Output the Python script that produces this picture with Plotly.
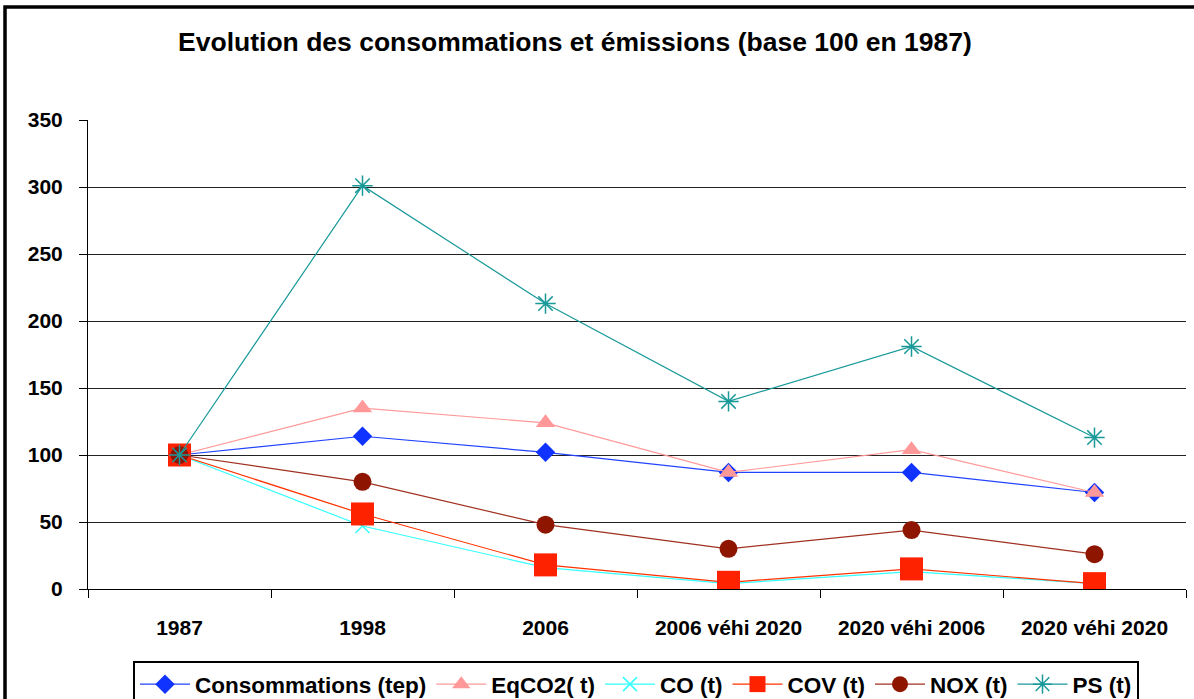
import plotly.graph_objects as go

# Scenario categories on the x axis
categories = ["1987", "1998", "2006", "2006 véhi 2020", "2020 véhi 2006", "2020 véhi 2020"]

# Indexed values (base 100 in 1987)
consommations = [100, 114, 102, 87, 87, 72]
eqco2 = [100, 135, 124, 87, 104, 72]
co = [100, 47, 16, 4, 13, 4]
cov = [100, 56, 18, 5, 15, 4]
nox = [100, 80, 48, 30, 44, 26]
ps = [100, 301, 213, 140, 181, 113]

y_ticks = [0, 50, 100, 150, 200, 250, 300, 350]

FONT = "Liberation Sans, Arial, sans-serif"

series = [
    ("Consommations (tep)", consommations, dict(symbol="diamond", size=15, color="#1133FF"), "#2244FF"),
    ("EqCO2( t)", eqco2, dict(symbol="triangle-up", size=17, color="#FF9999"), "#FF9999"),
    ("CO (t)", co, dict(symbol="x-thin-open", size=14, color="#33FFFF", line=dict(width=1.5, color="#33FFFF")), "#33FFFF"),
    ("COV (t)", cov, dict(symbol="square", size=23, color="#FF2200"), "#FF3300"),
    ("NOX (t)", nox, dict(symbol="circle", size=18, color="#8E1500"), "#A03020"),
    ("PS (t)", ps, dict(symbol="asterisk-open", size=17, color="#1A9999", line=dict(width=1.5, color="#1A9999")), "#1A9999"),
]

fig = go.Figure()
for name, values, marker, line_color in series:
    fig.add_trace(go.Scatter(
        x=categories, y=values, name=name, mode="lines+markers",
        line=dict(color=line_color, width=1.2),
        marker=marker,
    ))

# Outer chart frame (thick black border)
fig.add_shape(
    type="rect", xref="paper", yref="paper",
    x0=(5 - 88) / 1098, x1=(1220 - 88) / 1098,
    y0=(589 - 720) / 469, y1=(589 - 7) / 469,
    line=dict(color="black", width=3.5), fillcolor="rgba(0,0,0,0)", layer="below",
)

fig.update_layout(
    width=1194, height=699,
    margin=dict(l=88, r=8, t=120, b=110, autoexpand=False),
    paper_bgcolor="white", plot_bgcolor="white",
    font=dict(family=FONT, color="black"),
    title=dict(
        text="Evolution des consommations et émissions (base 100 en 1987)",
        x=575 / 1194, xanchor="center", xref="container",
        y=1 - 42 / 699, yanchor="middle", yref="container",
        font=dict(size=26.5, family=FONT, weight="bold", color="black"),
    ),
    showlegend=True,
    legend=dict(
        orientation="h", x=636 / 1194, xanchor="center", xref="container",
        y=1 - 661 / 699, yanchor="top", yref="container",
        bordercolor="black", borderwidth=2, bgcolor="white",
        font=dict(size=22.5, family=FONT, weight="bold", color="black"),
        itemwidth=50, tracegroupgap=0,
    ),
)

fig.update_xaxes(
    type="category", range=[-0.5, 5.5],
    showline=True, linecolor="black", linewidth=1,
    ticks="outside", ticklen=8, tickcolor="black", tickson="boundaries",
    showgrid=False, zeroline=False,
    tickfont=dict(size=21, family=FONT, weight="bold", color="black"),
    ticklabelstandoff=20,
)
fig.update_yaxes(
    range=[0, 350], tickvals=y_ticks,
    showline=True, linecolor="black", linewidth=1,
    ticks="outside", ticklen=8, tickcolor="black",
    showgrid=True, gridcolor="#222222", gridwidth=1,
    zeroline=False,
    tickfont=dict(size=21, family=FONT, weight="bold", color="black"),
    ticklabelstandoff=12,
)

fig.write_html("out.html")
